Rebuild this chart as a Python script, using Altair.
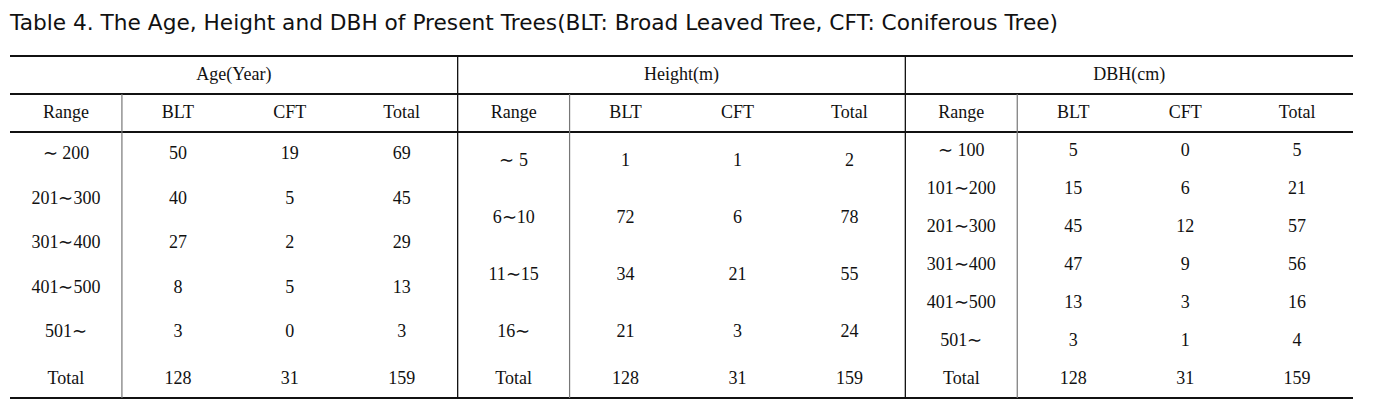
import altair as alt
import pandas as pd

# ---------------- data ----------------
title_text = "Table 4. The Age, Height and DBH of Present Trees(BLT: Broad Leaved Tree, CFT: Coniferous Tree)"
groups = ["Age(Year)", "Height(m)", "DBH(cm)"]
subheaders = ["Range", "BLT", "CFT", "Total"]

age_range = ["∼ 200", "201∼300", "301∼400", "401∼500", "501∼"]
age_blt = [50, 40, 27, 8, 3]
age_cft = [19, 5, 2, 5, 0]
age_total = [69, 45, 29, 13, 3]

height_range = ["∼ 5", "6∼10", "11∼15", "16∼"]
height_blt = [1, 72, 34, 21]
height_cft = [1, 6, 21, 3]
height_total = [2, 78, 55, 24]

dbh_range = ["∼ 100", "101∼200", "201∼300", "301∼400", "401∼500", "501∼"]
dbh_blt = [5, 15, 45, 47, 13, 3]
dbh_cft = [0, 6, 12, 9, 3, 1]
dbh_total = [5, 21, 57, 56, 16, 4]

total_label = "Total"
totals = [128, 31, 159]

# ---------------- layout ----------------
W, H = 1357, 392
OFF = 8
LEFT, RIGHT = 10, 1353
GW = (RIGHT - LEFT) / 3
CW = GW / 4
Y_TOP, Y_H1, Y_H2, Y_TOT, Y_BOT = 56, 94, 132, 360, 398
ROW_H = [44.5, 57, 38]

blocks = [
    (age_range, age_blt, age_cft, age_total),
    (height_range, height_blt, height_cft, height_total),
    (dbh_range, dbh_blt, dbh_cft, dbh_total),
]

cells = []
for g, name in enumerate(groups):
    gx = LEFT + g * GW
    cells.append({"label": name, "x": gx + GW / 2, "y": (Y_TOP + Y_H1) / 2})
    for c, s in enumerate(subheaders):
        cells.append({"label": s, "x": gx + (c + 0.5) * CW, "y": (Y_H1 + Y_H2) / 2})
    rng, blt, cft, tot = blocks[g]
    for i in range(len(rng)):
        yy = Y_H2 + (i + 0.5) * ROW_H[g]
        for c, v in enumerate([rng[i], blt[i], cft[i], tot[i]]):
            cells.append({"label": str(v), "x": gx + (c + 0.5) * CW, "y": yy})
    for c, v in enumerate([total_label] + totals):
        cells.append({"label": str(v), "x": gx + (c + 0.5) * CW, "y": (Y_TOT + Y_BOT) / 2})
cells_df = pd.DataFrame(cells)

hlines = pd.DataFrame([
    {"x": LEFT, "x2": RIGHT, "y": Y_TOP, "w": 2.2},
    {"x": LEFT, "x2": RIGHT, "y": Y_H1, "w": 1.8},
    {"x": LEFT, "x2": RIGHT, "y": Y_H2, "w": 2.2},
    {"x": LEFT, "x2": RIGHT, "y": Y_BOT, "w": 2.2},
])
vgroup = pd.DataFrame([{"x": LEFT + g * GW, "y": Y_TOP, "y2": Y_BOT} for g in (1, 2)])
vrange = pd.DataFrame([{"x": LEFT + g * GW + CW, "y": Y_H1, "y2": Y_BOT} for g in range(3)])
title_df = pd.DataFrame([{"label": title_text, "x": LEFT, "y": 23}])

xs = alt.Scale(domain=[OFF, OFF + W], range=[0, W], nice=False, zero=False)
ys = alt.Scale(domain=[OFF + H, OFF], nice=False, zero=False)
X = lambda f: alt.X(f, type="quantitative", scale=xs, axis=None)
Y = lambda f: alt.Y(f, type="quantitative", scale=ys, axis=None)

text_layer = alt.Chart(cells_df).mark_text(
    font="Liberation Serif", fontSize=18, color="#111111", align="center", baseline="middle"
).encode(x=X("x"), y=Y("y"), text="label:N")

title_layer = alt.Chart(title_df).mark_text(
    font="DejaVu Sans", fontSize=21.7, color="#111111", align="left", baseline="middle"
).encode(x=X("x"), y=Y("y"), text="label:N")

h_layer = alt.Chart(hlines).mark_rule(color="#111111").encode(
    x=X("x"), x2="x2", y=Y("y"),
    strokeWidth=alt.StrokeWidth("w:Q", scale=None, legend=None),
)
vg_layer = alt.Chart(vgroup).mark_rule(color="#111111", strokeWidth=1.3).encode(
    x=X("x"), y=Y("y"), y2="y2"
)
vr_layer = alt.Chart(vrange).mark_rule(color="#777777", strokeWidth=1.2).encode(
    x=X("x"), y=Y("y"), y2="y2"
)

chart = alt.layer(h_layer, vg_layer, vr_layer, text_layer, title_layer).properties(
    width=W, height=H, padding=0, background="white",
    autosize=alt.AutoSizeParams(type="none"),
).configure_view(strokeWidth=0, stroke="transparent")

chart.save("out.html", embed_options={"renderer": "svg", "actions": False})
